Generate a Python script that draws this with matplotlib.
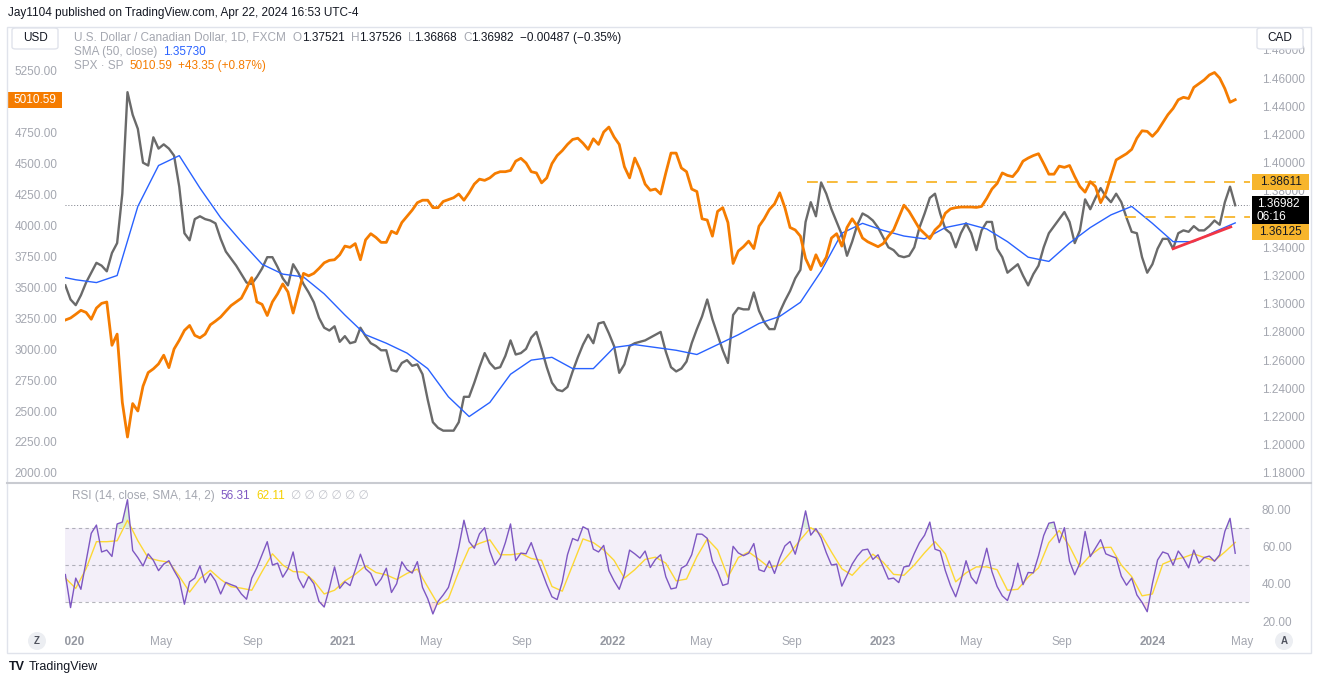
import numpy as np
import pandas as pd
import matplotlib
matplotlib.use('Agg')
import matplotlib.pyplot as plt
from matplotlib.patches import Rectangle, FancyBboxPatch, Ellipse
from matplotlib.lines import Line2D
from matplotlib.transforms import Bbox, TransformedBbox, blended_transform_factory

plt.rcParams['font.family'] = ['Liberation Sans', 'DejaVu Sans']

# weekly closes, USD/CAD (right scale)
usdcad = [1.313, 1.303, 1.299, 1.306, 1.315, 1.322, 1.329, 1.327, 1.323, 1.336,
          1.343, 1.378, 1.450, 1.434, 1.424, 1.400, 1.398, 1.418, 1.410, 1.413,
          1.410, 1.405, 1.383, 1.350, 1.345, 1.360, 1.362, 1.360, 1.359, 1.357,
          1.346, 1.337, 1.332, 1.327, 1.321, 1.315, 1.314, 1.319, 1.325, 1.333,
          1.333, 1.326, 1.318, 1.313, 1.328, 1.322, 1.314, 1.308, 1.301, 1.290,
          1.283, 1.281, 1.284, 1.273, 1.277, 1.272, 1.273, 1.283, 1.277, 1.272,
          1.270, 1.267, 1.267, 1.253, 1.252, 1.258, 1.260, 1.256, 1.257, 1.250,
          1.232, 1.216, 1.212, 1.210, 1.210, 1.210, 1.216, 1.234, 1.234, 1.244,
          1.255, 1.265, 1.258, 1.254, 1.255, 1.263, 1.274, 1.264, 1.265, 1.268,
          1.276, 1.280, 1.268, 1.255, 1.244, 1.239, 1.238, 1.241, 1.252, 1.262,
          1.271, 1.278, 1.272, 1.286, 1.287, 1.279, 1.270, 1.251, 1.257, 1.270,
          1.272, 1.273, 1.274, 1.276, 1.278, 1.280, 1.266, 1.255, 1.252, 1.254,
          1.259, 1.272, 1.282, 1.291, 1.303, 1.289, 1.278, 1.267, 1.258, 1.292,
          1.297, 1.296, 1.296, 1.308, 1.295, 1.287, 1.282, 1.282, 1.294, 1.302,
          1.309, 1.318, 1.324, 1.358, 1.372, 1.362, 1.386, 1.378, 1.367, 1.358,
          1.349, 1.334, 1.344, 1.356, 1.364, 1.362, 1.359, 1.354, 1.347, 1.340,
          1.338, 1.334, 1.333, 1.334, 1.340, 1.354, 1.364, 1.375, 1.378, 1.364,
          1.353, 1.350, 1.340, 1.350, 1.357, 1.350, 1.338, 1.352, 1.358, 1.358,
          1.339, 1.333, 1.322, 1.325, 1.328, 1.320, 1.313, 1.321, 1.327, 1.340,
          1.350, 1.355, 1.360, 1.365, 1.358, 1.343, 1.352, 1.374, 1.367, 1.375,
          1.382, 1.376, 1.372, 1.378, 1.372, 1.361, 1.351, 1.350, 1.333, 1.322,
          1.328, 1.339, 1.346, 1.346, 1.339, 1.350, 1.352, 1.351, 1.355, 1.352,
          1.352, 1.355, 1.359, 1.356, 1.372, 1.383, 1.36982]

# weekly SPX (left scale)
spx = [3234, 3250, 3280, 3312, 3295, 3240, 3330, 3368, 3379, 3030,
       3120, 2570, 2290, 2560, 2500, 2700, 2810, 2840, 2880, 2950,
       2850, 3000, 3070, 3150, 3190, 3110, 3090, 3120, 3195, 3225,
       3258, 3305, 3350, 3380, 3410, 3490, 3575, 3380, 3360, 3270,
       3380, 3445, 3525, 3460, 3290, 3450, 3610, 3590, 3610, 3650,
       3695, 3715, 3720, 3760, 3830, 3820, 3850, 3720, 3880, 3930,
       3900, 3860, 3860, 3950, 3930, 4020, 4070, 4120, 4180, 4200,
       4200, 4140, 4140, 4190, 4205, 4220, 4250, 4200, 4260, 4330,
       4370, 4360, 4380, 4415, 4430, 4430, 4440, 4515, 4538, 4500,
       4430, 4420, 4340, 4380, 4495, 4560, 4600, 4650, 4690, 4700,
       4660, 4610, 4695, 4650, 4750, 4790, 4710, 4650, 4470, 4380,
       4540, 4450, 4330, 4280, 4290, 4250, 4420, 4580, 4580, 4460,
       4430, 4290, 4270, 4050, 4040, 3910, 4110, 4140, 4020, 3690,
       3790, 3825, 3870, 3810, 3990, 4050, 4125, 4170, 4260, 4140,
       3980, 3960, 3910, 3730, 3640, 3760, 3670, 3740, 3895, 3930,
       3830, 3980, 4050, 3990, 3895, 3865, 3845, 3825, 3850, 3910,
       3960, 4060, 4160, 4110, 4040, 3970, 3930, 3890, 3960, 4000,
       4095, 4130, 4140, 4145, 4145, 4145, 4142, 4150, 4215, 4290,
       4335, 4420, 4400, 4390, 4440, 4515, 4540, 4560, 4575, 4495,
       4410, 4410, 4475, 4465, 4480, 4390, 4310, 4265, 4350, 4310,
       4180, 4260, 4395, 4525, 4550, 4575, 4610, 4700, 4760, 4755,
       4715, 4760, 4825, 4890, 4940, 5010, 5030, 5020, 5110, 5140,
       5170, 5210, 5230, 5185, 5100, 4990, 5010.59]

# weekly RSI(14)
rsi = [44.9, 27.2, 43, 37, 52, 67, 71.4, 57, 58, 54.6,
       72, 73, 85, 57.8, 54, 49.5, 56, 52.5, 47, 50.5,
       52.3, 47, 42.2, 29, 41, 43, 49.5, 40.5, 45.5, 41.5,
       34.5, 40.7, 39.5, 38.5, 34.5, 31.7, 43, 48.6, 55.5, 62.5,
       50, 51, 43.5, 48, 57, 43, 37.8, 43.8, 40, 30.5,
       27.5, 37.5, 49, 37.5, 41, 39, 47.3, 55.8, 48, 45.5,
       39, 42.5, 48.3, 35.3, 40, 51.7, 47.5, 45.7, 51.8, 38,
       32, 23.8, 30.5, 34, 38, 47.5, 59.5, 74, 62.5, 59,
       66.7, 70, 57.5, 50, 53.8, 62, 72, 52.4, 56.4, 56,
       62, 54, 47, 39.5, 33, 31.5, 41, 55.5, 64.2, 63,
       70.5, 69, 58.5, 57, 60.5, 47, 41.5, 37, 45, 58,
       56, 53.7, 57.5, 48.7, 53, 55.5, 43.7, 37.2, 37.8, 48.3,
       50, 55.5, 66.6, 66.5, 64.3, 52, 46.5, 39.1, 40, 60,
       56.5, 55, 56.3, 61.5, 47.5, 46.5, 52.2, 45.5, 53.7, 60.2,
       62.6, 55.8, 66, 79, 66, 69.5, 64.5, 56.6, 50, 50.5,
       38.7, 44.5, 50.5, 54.8, 58, 58.5, 53, 55.5, 49, 42.5,
       43, 40.6, 49, 49.5, 56.2, 62, 66, 73, 58.5, 57.5,
       47, 39, 33, 41.5, 52.3, 43.5, 40, 48.5, 59, 46.5,
       38.5, 33.5, 31, 39, 51, 39.5, 46, 45.8, 55, 65.8,
       72.4, 73, 62, 70, 52, 44.8, 51, 68, 54.5, 59,
       63.6, 56, 54.8, 53.8, 44, 39.2, 43, 34, 30, 25,
       40, 52.7, 57, 56, 50, 57.5, 53.7, 48.5, 58, 51,
       54, 54.8, 52, 55.5, 68, 75, 56.31]

# SMA(50) of USD/CAD, every 4 weeks
sma50 = [1.320, 1.317, 1.315, 1.320, 1.369, 1.398, 1.405, 1.382, 1.361, 1.344,
         1.328, 1.321, 1.319, 1.307, 1.292, 1.278, 1.272, 1.265, 1.254, 1.234,
         1.220, 1.230, 1.250, 1.260, 1.262, 1.254, 1.254, 1.269, 1.271, 1.269,
         1.267, 1.264, 1.271, 1.278, 1.286, 1.291, 1.301, 1.323, 1.350, 1.357,
         1.352, 1.348, 1.346, 1.354, 1.357, 1.353, 1.344, 1.333, 1.330, 1.343,
         1.354, 1.363, 1.369, 1.357, 1.344, 1.344, 1.351, 1.3573]

# SMA(14) of RSI, every 2 weeks
rsi_sma = [43, 37.5, 48, 62.5, 62.5, 63, 74, 63, 53.8, 52.4,
           51.5, 44, 35.5, 42.8, 47.2, 42.3, 38.4, 37.6, 36.5, 46.5,
           56, 50, 46.5, 46.2, 41.5, 34.5, 36.5, 41.5, 45, 49.6,
           46, 44.7, 42.3, 45.5, 47.8, 38.3, 28.9, 32, 46.5, 59,
           61.6, 63.5, 55.5, 55.5, 56.2, 53.5, 52.5, 38.5, 36, 50,
           64, 62, 58.1, 52.5, 43, 47.5, 53, 54.2, 51, 41.5,
           42.5, 54.5, 64, 58.1, 43.5, 54, 57, 53, 48.6, 50,
           56.5, 63.5, 70, 66.5, 57, 48, 44.5, 50.5, 55.8, 51.5,
           45, 44.5, 50, 56.6, 62.5, 56, 41, 45.8, 49, 49,
           47.5, 36.5, 37, 43.5, 48.5, 62, 68.5, 60, 49, 55.2,
           59.3, 59.5, 50, 43.8, 33.5, 34.5, 50.5, 52.8, 54, 56,
           54, 52.3, 57, 62.11]

trend_dates = ['2024-01-29', '2024-04-16']
trend_vals = [1.339, 1.3545]
resistance = 1.38611
support = 1.36125
last_close = 1.36982

tick_dates = ['2020-01-01', '2020-05-01', '2020-09-01', '2021-01-01', '2021-05-01',
              '2021-09-01', '2022-01-01', '2022-05-01', '2022-09-01', '2023-01-01',
              '2023-05-01', '2023-09-01', '2024-01-01', '2024-05-01']
tick_labels = ['2020', 'May', 'Sep', '2021', 'May', 'Sep', '2022', 'May', 'Sep',
               '2023', 'May', 'Sep', '2024', 'May']

weeks = pd.date_range(end='2024-04-22', periods=len(usdcad), freq='7D')
sma_dates = pd.date_range(end='2024-04-22', periods=len(sma50), freq='28D')
rsi_sma_dates = pd.date_range(end='2024-04-22', periods=len(rsi_sma), freq='14D')
rsi_arr = np.array(rsi)

W, H = 1320, 683
LBL = '#a4a7b0'
DARK = '#131722'
ORANGE = '#f57c00'
GOLD = '#f7b52c'


def fx(px):
    return px / W


def fy(py):
    return 1 - py / H


fig = plt.figure(figsize=(13.2, 6.83), dpi=100)
fig.patch.set_facecolor('white')

ax = fig.add_axes([fx(65), fy(482), 1185 / W, 454 / H])
ax2 = ax.twinx()
axr = fig.add_axes([fx(65), fy(630), 1185 / W, 146 / H])

xlim = (pd.Timestamp('2019-12-22 12:00'), pd.Timestamp('2024-05-12'))
for a in (ax, ax2, axr):
    for s in a.spines.values():
        s.set_visible(False)
    a.tick_params(length=0, labelsize=8.5, labelcolor=LBL)
    a.set_xlim(*xlim)
ax.set_facecolor('none')
ax.tick_params(axis='x', labelbottom=False)

# --- price pane ---
ax.axhline(last_close, color='#787b86', lw=0.7, ls=(0, (1, 2)), zorder=1)
ax.plot(weeks, usdcad, color='#6a6a6a', lw=1.7, zorder=2)
ax.plot(sma_dates, sma50, color='#2962ff', lw=1.0, zorder=3)
ax.plot(pd.to_datetime(trend_dates), trend_vals, color='#f23645', lw=2, zorder=4)
ax.hlines(resistance, pd.Timestamp('2022-09-21'), xlim[1], color=GOLD, lw=1.3, ls=(0, (6, 5)), zorder=4)
ax.hlines(support, pd.Timestamp('2023-11-25'), xlim[1], color=GOLD, lw=1.3, ls=(0, (6, 5)), zorder=4)
ax.set_ylim(1.1736, 1.4955)
ax.yaxis.tick_right()
yt = np.round(np.arange(1.18, 1.4801, 0.02), 2)
ax.set_yticks(yt)
# 1.36000 sits under the last-price tag in the reference
ax.set_yticklabels(['' if abs(v - 1.36) < 1e-9 else f'{v:.5f}' for v in yt])
ax.tick_params(axis='y', pad=8.6)

ax2.plot(weeks, spx, color=ORANGE, lw=2, zorder=5)
ax2.set_ylim(1927.4, 5588.9)
ax2.yaxis.tick_left()
st = np.arange(2000, 5251, 250)
ax2.set_yticks(st)
# 5000.00 is hidden under the SPX price tag in the reference
ax2.set_yticklabels(['' if v == 5000 else f'{v:.2f}' for v in st])
ax2.tick_params(axis='y', pad=5.5)

# price tags on the right scale
tr = blended_transform_factory(ax.transAxes, ax.transData)
x0, w = (1252 - 65) / 1185, 57 / 1185
ppx = 0.000709


def tag(a, trans, yc, h, fc):
    a.add_patch(Rectangle((x0, yc - h / 2), w, h, transform=trans, fc=fc, ec='none',
                          clip_on=False, zorder=10))


tag(ax, tr, resistance, 16 * ppx, GOLD)
ax.text(x0 + w / 2, resistance, '1.38611', transform=tr, ha='center', va='center',
        color=DARK, fontsize=8.5, clip_on=False, zorder=11)
tag(ax, tr, 1.3661, 29 * ppx, 'black')
ax.text(x0 + 5 / 1185, 1.3661 + 6.5 * ppx, '1.36982', transform=tr, ha='left', va='center',
        color='white', fontsize=8.5, clip_on=False, zorder=11)
ax.text(x0 + 5 / 1185, 1.3661 - 6.5 * ppx, '06:16', transform=tr, ha='left', va='center',
        color='white', fontsize=8.5, clip_on=False, zorder=11)
tag(ax, tr, 1.3509, 16 * ppx, GOLD)
ax.text(x0 + w / 2, 1.3509, '1.36125', transform=tr, ha='center', va='center',
        color=DARK, fontsize=8.5, clip_on=False, zorder=11)

# SPX tag on the left scale
tl = blended_transform_factory(ax2.transAxes, ax2.transData)
ax2.add_patch(Rectangle(((8 - 65) / 1185, spx[-1] - 65), 54 / 1185, 130, transform=tl,
                        fc=ORANGE, ec='none', clip_on=False, zorder=10))
ax2.text((35 - 65) / 1185, spx[-1], '5010.59', transform=tl, ha='center', va='center',
         color='white', fontsize=8.5, clip_on=False, zorder=11)

# --- RSI pane ---
axr.axhspan(30, 70, color='#7e57c2', alpha=0.09, lw=0)
for lv in (70, 50, 30):
    axr.axhline(lv, color='#787b86', lw=0.8, ls=(0, (3, 3)), alpha=0.55)
axr.fill_between(weeks, rsi_arr, 70, where=rsi_arr > 70, interpolate=True, color='#4caf50', alpha=0.2, lw=0)
axr.fill_between(weeks, rsi_arr, 30, where=rsi_arr < 30, interpolate=True, color='#f23645', alpha=0.15, lw=0)
axr.plot(rsi_sma_dates, rsi_sma, color='#fdd835', lw=1)
axr.plot(weeks, rsi, color='#7e57c2', lw=1)
axr.set_ylim(15.2, 93.4)
axr.yaxis.tick_right()
axr.set_yticks([20, 40, 60, 80])
axr.set_yticklabels(['20.00', '40.00', '60.00', '80.00'])
axr.tick_params(axis='y', pad=8.6)
axr.set_xticks(pd.to_datetime(tick_dates))
axr.set_xticklabels(tick_labels)
axr.tick_params(axis='x', pad=4, labelsize=8.5)
clip = TransformedBbox(Bbox.from_extents(fx(65), 0, fx(1262), 1), fig.transFigure)
for lbl in axr.get_xticklabels():
    lbl.set_clip_box(clip)
    lbl.set_clip_on(True)
    if lbl.get_text().isdigit():
        lbl.set_fontweight('bold')
        lbl.set_color('#9598a1')

# --- chrome ---
fig.patches.append(Rectangle((fx(7), fy(653)), 1304 / W, 626 / H, fill=False, ec='#e0e3eb',
                             lw=1, transform=fig.transFigure))
fig.lines.append(Line2D([fx(7), fx(1311)], [fy(483), fy(483)], color='#c9cbd1', lw=1.5,
                        transform=fig.transFigure))
for bx, txt in ((12, 'USD'), (1257, 'CAD')):
    fig.patches.append(FancyBboxPatch((fx(bx), fy(49)), 46 / W, 21 / H,
                                      boxstyle='round,pad=0,rounding_size=0.003',
                                      fc='white', ec='#e0e3eb', lw=1, transform=fig.transFigure))
    fig.text(fx(bx + 23), fy(38), txt, ha='center', va='center', fontsize=8.5, color=DARK)
for cx, txt in ((37, 'Z'), (1284, 'A')):
    fig.patches.append(Ellipse((fx(cx), fy(641)), 18 / W, 18 / H, fc='#eceef2', ec='none',
                               transform=fig.transFigure))
    fig.text(fx(cx), fy(641), txt, ha='center', va='center', fontsize=7, color='#50535e',
             weight='bold')

fig.text(fx(8), fy(13), 'Jay1104 published on TradingView.com, Apr 22, 2024 16:53 UTC-4',
         fontsize=8.5, color=DARK, va='center')
fig.text(fx(9), fy(667), 'TV', fontsize=9, color=DARK, va='center', weight='heavy')
fig.text(fx(29), fy(667), 'TradingView', fontsize=9, color=DARK, va='center')

renderer = fig.canvas.get_renderer()


def text_row(x, y, parts, size=8.5):
    for s, color, gap in parts:
        t = fig.text(fx(x), fy(y), s, color=color, fontsize=size, va='center', ha='left')
        x += t.get_window_extent(renderer).width + gap


text_row(74, 38, [('U.S. Dollar / Canadian Dollar, 1D, FXCM', LBL, 7),
                  ('O', LBL, 0), ('1.37521', DARK, 6), ('H', LBL, 0), ('1.37526', DARK, 6),
                  ('L', LBL, 0), ('1.36868', DARK, 6), ('C', LBL, 0), ('1.36982', DARK, 6),
                  ('\u22120.00487 (\u22120.35%)', DARK, 0)])
text_row(74, 52, [('SMA (50, close)', LBL, 6), ('1.35730', '#2962ff', 0)])
text_row(74, 66, [('SPX \u00b7 SP', LBL, 6), ('5010.59', ORANGE, 6), ('+43.35 (+0.87%)', ORANGE, 0)])
text_row(72, 496, [('RSI (14, close, SMA, 14, 2)', LBL, 6), ('56.31', '#7e57c2', 6),
                   ('62.11', '#f5d000', 6), ('\u2205 \u2205 \u2205 \u2205 \u2205 \u2205', '#c3c5cc', 0)])

fig.savefig('out.png', dpi=100)
